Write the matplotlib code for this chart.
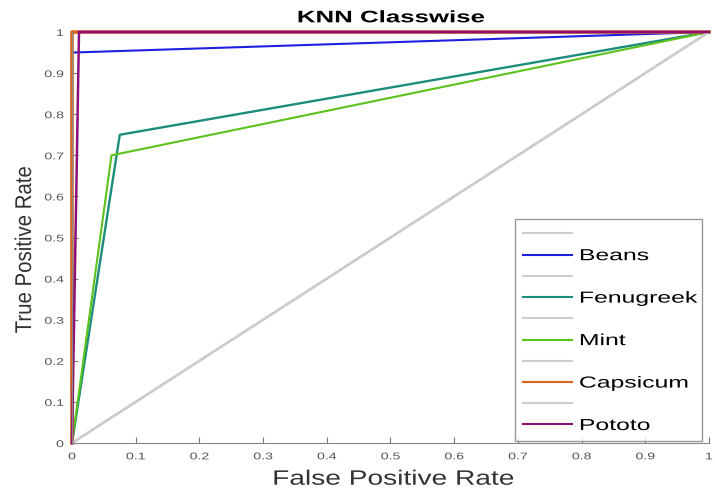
import matplotlib
matplotlib.use("Agg")
import matplotlib.pyplot as plt
from matplotlib.patheffects import AbstractPathEffect
from matplotlib.transforms import Affine2D

plt.rcParams["font.family"] = ["Liberation Sans", "DejaVu Sans"]

# ROC points (FPR, TPR) per class for the KNN classifier
classes = ["Beans", "Fenugreek", "Mint", "Capsicum", "Pototo"]
fpr = {
    "Beans":     [0.0, 0.0, 1.0],
    "Fenugreek": [0.0, 0.075, 1.0],
    "Mint":      [0.0, 0.062, 1.0],
    "Capsicum":  [0.0, 0.0, 1.0],
    "Pototo":    [0.0, 0.011, 1.0],
}
tpr = {
    "Beans":     [0.0, 0.95, 1.0],
    "Fenugreek": [0.0, 0.75, 1.0],
    "Mint":      [0.0, 0.70, 1.0],
    "Capsicum":  [0.0, 1.0, 1.0],
    "Pototo":    [0.0, 1.0, 1.0],
}
chance = [0.0, 1.0]
ticks = [0, 0.1, 0.2, 0.3, 0.4, 0.5, 0.6, 0.7, 0.8, 0.9, 1]
tick_labels = ["0", "0.1", "0.2", "0.3", "0.4", "0.5", "0.6", "0.7", "0.8", "0.9", "1"]

colors = {
    "Beans": "#1f1fe0",
    "Fenugreek": "#1d8c7c",
    "Mint": "#5cc21c",
    "Capsicum": "#d9661c",
    "Pototo": "#8a0f78",
}
widths = {"Beans": 1.5, "Fenugreek": 1.7, "Mint": 1.5, "Capsicum": 2.6, "Pototo": 1.8}


class Widen(AbstractPathEffect):
    """Draw text glyphs scaled in glyph space (wide, MATLAB-export look)."""

    def __init__(self, sx=1.0, sy=1.0, pivot="center"):
        super().__init__()
        self.sx, self.sy, self.pivot = sx, sy, pivot

    def draw_path(self, renderer, gc, tpath, affine, rgbFace=None):
        ext = tpath.get_extents()
        if self.pivot == "center":
            cx = 0.5 * (ext.x0 + ext.x1)
        elif self.pivot == "right":
            cx = ext.x1
        else:
            cx = 0.0
        pre = Affine2D().translate(-cx, 0).scale(self.sx, self.sy).translate(cx, 0)
        renderer.draw_path(gc, tpath, pre + affine, rgbFace)


fig = plt.figure(figsize=(7.15, 4.88), dpi=100)
ax = fig.add_axes([0.1007, 0.0922, 0.8909, 0.8422])

for c in classes:
    ax.plot(chance, chance, color="#cdcdcd", lw=1.5, label=" ")
    ax.plot(fpr[c], tpr[c], color=colors[c], lw=widths[c], label=c, clip_on=False)

ax.set_xlim(0, 1)
ax.set_ylim(0, 1)
ax.set_xticks(ticks)
ax.set_xticklabels(tick_labels)
ax.set_yticks(ticks)
ax.set_yticklabels(tick_labels)
ax.tick_params(direction="in", length=4, colors="#777777", labelcolor="#555555",
               labelsize=7)
ax.tick_params(axis="x", pad=6)
ax.tick_params(axis="y", pad=6)
for lab in ax.get_xticklabels():
    lab.set_path_effects([Widen(sx=1.45, pivot="center")])
for lab in ax.get_yticklabels():
    lab.set_path_effects([Widen(sx=1.45, pivot="right")])
for s in ["top", "right"]:
    ax.spines[s].set_visible(False)
for s in ["left", "bottom"]:
    ax.spines[s].set_color("#888888")

title = ax.set_title("KNN Classwise", fontsize=12, fontweight="bold", pad=7)
title.set_path_effects([Widen(sx=1.55, pivot="center")])

xl = ax.set_xlabel("False Positive Rate", fontsize=15, color="#333333")
xl.set_path_effects([Widen(sx=1.35, pivot="center")])
ax.xaxis.set_label_coords(0.505, -0.065)

yl = ax.set_ylabel("True Positive Rate", fontsize=14.7, color="#333333")
yl.set_path_effects([Widen(sx=1.0, sy=1.12, pivot="left")])
ax.yaxis.set_label_coords(-0.058, 0.47)

leg = ax.legend(loc="upper left", bbox_to_anchor=(0.7203, 0.0984, 0.2615, 0.4529),
                bbox_transform=fig.transFigure, mode="expand", fontsize=11.5,
                frameon=True, fancybox=False, edgecolor="#808080",
                handlelength=3.05, handletextpad=0.45, labelspacing=0.39,
                borderpad=0.5, borderaxespad=0.0)
leg.get_frame().set_linewidth(1.0)
for h in leg.get_lines():
    h.set_linewidth(1.5)
for t in leg.get_texts():
    t.set_path_effects([Widen(sx=1.55, pivot="left")])

fig.savefig("out.png", dpi=100)
